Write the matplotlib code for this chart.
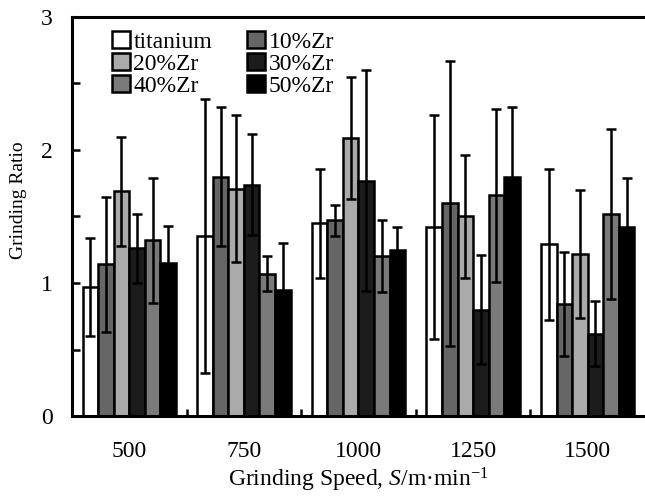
import matplotlib as mpl
mpl.use('Agg')
import matplotlib.pyplot as plt
import numpy as np

plt.rcParams['font.family'] = ['Liberation Serif', 'DejaVu Serif']
plt.rcParams['mathtext.fontset'] = 'custom'
plt.rcParams['mathtext.it'] = 'Liberation Serif:italic'
plt.rcParams['mathtext.rm'] = 'Liberation Serif'

# grinding speeds
speeds = ['500', '750', '1000', '1250', '1500']
materials = ['titanium', '10%Zr', '20%Zr', '30%Zr', '40%Zr', '50%Zr']

# mean grinding ratio per material (one value per speed)
titanium = [0.97, 1.35, 1.45, 1.42, 1.29]
zr10 = [1.14, 1.80, 1.47, 1.60, 0.84]
zr20 = [1.69, 1.71, 2.09, 1.50, 1.22]
zr30 = [1.26, 1.74, 1.77, 0.80, 0.62]
zr40 = [1.32, 1.07, 1.20, 1.66, 1.52]
zr50 = [1.15, 0.95, 1.25, 1.80, 1.42]

# standard deviations
titanium_err = [0.37, 1.03, 0.41, 0.84, 0.57]
zr10_err = [0.51, 0.52, 0.12, 1.07, 0.39]
zr20_err = [0.41, 0.55, 0.46, 0.46, 0.48]
zr30_err = [0.26, 0.38, 0.83, 0.41, 0.245]
zr40_err = [0.47, 0.13, 0.27, 0.65, 0.64]
zr50_err = [0.28, 0.35, 0.17, 0.52, 0.37]

means = [titanium, zr10, zr20, zr30, zr40, zr50]
errs = [titanium_err, zr10_err, zr20_err, zr30_err, zr40_err, zr50_err]
colors = ['white', '#666666', '#aaaaaa', '#1c1c1c', '#7a7a7a', 'black']

fs = 17

fig = plt.figure(figsize=(6.45, 4.99), dpi=100)
ax = fig.add_axes([0.1116, 0.1663, 0.8884, 0.7997])

x = np.arange(len(speeds))
w = 0.136
bars = []
for i in range(len(materials)):
    b = ax.bar(x + (i - 2.5) * w, means[i], w, yerr=errs[i], color=colors[i],
               edgecolor='black', linewidth=1.8, label=materials[i],
               error_kw=dict(elinewidth=1.8, capsize=3.5, capthick=1.8, ecolor='black'))
    bars.append(b)

ax.set_xlim(-0.5, 4.5)
ax.set_ylim(0, 3)
ax.set_yticks([0, 1, 2, 3])
ax.set_yticks([0.5, 1.5, 2.5], minor=True)
ax.set_xticks(x)
ax.set_xticklabels(speeds)
ax.set_xticks(x[:-1] + 0.5, minor=True)
ax.tick_params(axis='x', which='major', length=0, pad=18, labelsize=fs)
ax.tick_params(axis='x', which='minor', direction='in', length=5, width=1.8)
ax.tick_params(axis='y', which='both', direction='in', length=6, width=1.8, pad=14, labelsize=fs)

for s in ['left', 'bottom', 'top']:
    ax.spines[s].set_linewidth(2.2)
ax.spines['right'].set_visible(False)

ax.set_ylabel('Grinding Ratio', fontsize=14)
ax.yaxis.set_label_coords(-0.079, 0.54)
ax.set_xlabel('Grinding Speed, $S$/m·min$^{\\mathregular{-1}}$', fontsize=fs, labelpad=3)

order = [0, 2, 4, 1, 3, 5]
leg = ax.legend([bars[i] for i in order], [materials[i] for i in order], ncol=2,
                frameon=False, loc='upper left', bbox_to_anchor=(0.037, 1.012),
                fontsize=fs, handlelength=0.75, handleheight=0.75, handletextpad=0.15,
                columnspacing=1.5, labelspacing=0.0, borderpad=0.3)

plt.savefig('out.png')
